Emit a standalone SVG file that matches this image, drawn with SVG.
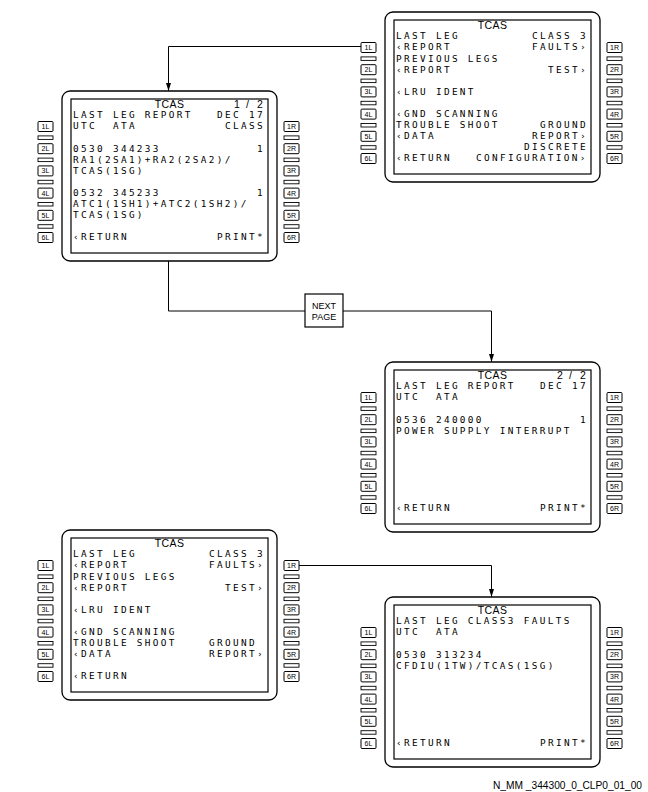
<svg xmlns="http://www.w3.org/2000/svg" xmlns:xlink="http://www.w3.org/1999/xlink" width="648" height="792" viewBox="0 0 648 792">
  <style>
    .bezel { fill: #fff; stroke: #000; stroke-width: 1.3; }
    .crt { fill: #fff; stroke: #000; stroke-width: 1.2; }
    .key { fill: #fff; stroke: #000; stroke-width: 1; }
    .bar { fill: #fff; stroke: #000; stroke-width: 0.9; }
    .klbl { font-family: "Liberation Sans Narrow", "Liberation Sans", sans-serif; font-size: 7px; fill: #000; text-anchor: middle; }
    .ln { font-family: "DejaVu Sans Mono", "Liberation Mono", monospace; font-size: 9.4px; letter-spacing: 2.34px; fill: #000; }
    .ttl { font-family: "Liberation Sans", Arial, sans-serif; font-size: 10.5px; letter-spacing: 0.4px; fill: #000; }
    .wire { fill: none; stroke: #000; stroke-width: 1; }
    .boxlbl { font-family: "Liberation Sans", Arial, sans-serif; font-size: 9px; fill: #000; text-anchor: middle; }
    .ref { font-family: "Liberation Sans", Arial, sans-serif; font-size: 10.2px; fill: #000; }
  </style>
  <defs>
    <marker id="arrow" markerUnits="userSpaceOnUse" markerWidth="9" markerHeight="6" refX="8" refY="2.5" orient="auto">
      <path d="M0,0 L8,2.5 L0,5 Z" fill="#000"/>
    </marker>
    <!-- CDU bezel with display area -->
    <g id="frame">
      <rect class="bezel" x="0" y="0" width="215" height="170" rx="8"/>
      <rect class="crt" x="9" y="8" width="197" height="154"/>
    </g>
    <!-- line select keys, left column -->
    <g id="keys-left">
      <rect class="key" x="-24" y="30.5" width="15" height="10" rx="1"/>
      <rect class="bar" x="-24" y="44.9" width="15" height="3.5"/>
      <rect class="key" x="-24" y="52.7" width="15" height="10" rx="1"/>
      <rect class="bar" x="-24" y="67.1" width="15" height="3.5"/>
      <rect class="key" x="-24" y="74.9" width="15" height="10" rx="1"/>
      <rect class="bar" x="-24" y="89.3" width="15" height="3.5"/>
      <rect class="key" x="-24" y="97.1" width="15" height="10" rx="1"/>
      <rect class="bar" x="-24" y="111.5" width="15" height="3.5"/>
      <rect class="key" x="-24" y="119.3" width="15" height="10" rx="1"/>
      <rect class="bar" x="-24" y="133.7" width="15" height="3.5"/>
      <rect class="key" x="-24" y="141.5" width="15" height="10" rx="1"/>
      <text class="klbl" x="-16.5" y="38">1L</text>
      <text class="klbl" x="-16.5" y="60.2">2L</text>
      <text class="klbl" x="-16.5" y="82.4">3L</text>
      <text class="klbl" x="-16.5" y="104.6">4L</text>
      <text class="klbl" x="-16.5" y="126.8">5L</text>
      <text class="klbl" x="-16.5" y="149">6L</text>
    </g>
    <!-- line select keys, right column -->
    <g id="keys-right">
      <rect class="key" x="222" y="30.5" width="15" height="10" rx="1"/>
      <rect class="bar" x="222" y="44.9" width="15" height="3.5"/>
      <rect class="key" x="222" y="52.7" width="15" height="10" rx="1"/>
      <rect class="bar" x="222" y="67.1" width="15" height="3.5"/>
      <rect class="key" x="222" y="74.9" width="15" height="10" rx="1"/>
      <rect class="bar" x="222" y="89.3" width="15" height="3.5"/>
      <rect class="key" x="222" y="97.1" width="15" height="10" rx="1"/>
      <rect class="bar" x="222" y="111.5" width="15" height="3.5"/>
      <rect class="key" x="222" y="119.3" width="15" height="10" rx="1"/>
      <rect class="bar" x="222" y="133.7" width="15" height="3.5"/>
      <rect class="key" x="222" y="141.5" width="15" height="10" rx="1"/>
      <text class="klbl" x="229.5" y="38">1R</text>
      <text class="klbl" x="229.5" y="60.2">2R</text>
      <text class="klbl" x="229.5" y="82.4">3R</text>
      <text class="klbl" x="229.5" y="104.6">4R</text>
      <text class="klbl" x="229.5" y="126.8">5R</text>
      <text class="klbl" x="229.5" y="149">6R</text>
    </g>
  </defs>

  <!-- connectors -->
  <g id="connectors">
    <path class="wire" d="M361,46.5 H168.5 V91" marker-end="url(#arrow)"/>
    <path class="wire" d="M168.5,261 V311 H305"/>
    <path class="wire" d="M343,311 H491.5 V362" marker-end="url(#arrow)"/>
    <path class="wire" d="M299,565.5 H491.5 V597" marker-end="url(#arrow)"/>
  </g>

  <!-- NEXT PAGE label box -->
  <g id="next-page">
    <rect x="305" y="294" width="38" height="33" fill="#fff" stroke="#000" stroke-width="1.2"/>
    <text class="boxlbl" x="324" y="308.5">NEXT</text>
    <text class="boxlbl" x="324" y="320">PAGE</text>
  </g>

  <!-- TCAS main menu (with discrete configuration) -->
  <g id="tcas-menu-a" transform="translate(385,12)">
    <use xlink:href="#frame"/>
    <use xlink:href="#keys-left"/>
    <use xlink:href="#keys-right"/>
    <text class="ttl" x="107.5" y="16.6" text-anchor="middle">TCAS</text>
    <text class="ln" x="11" y="27.3">LAST LEG</text>
    <text class="ln" x="147" y="27.3">CLASS 3</text>
    <text class="ln" x="11" y="38.4">‹REPORT</text>
    <text class="ln" x="147" y="38.4">FAULTS›</text>
    <text class="ln" x="11" y="49.5">PREVIOUS LEGS</text>
    <text class="ln" x="11" y="60.6">‹REPORT</text>
    <text class="ln" x="163" y="60.6">TEST›</text>
    <text class="ln" x="11" y="82.8">‹LRU IDENT</text>
    <text class="ln" x="11" y="105">‹GND SCANNING</text>
    <text class="ln" x="11" y="116.1">TROUBLE SHOOT</text>
    <text class="ln" x="155" y="116.1">GROUND</text>
    <text class="ln" x="11" y="127.2">‹DATA</text>
    <text class="ln" x="147" y="127.2">REPORT›</text>
    <text class="ln" x="139" y="138.3">DISCRETE</text>
    <text class="ln" x="11" y="149.4">‹RETURN</text>
    <text class="ln" x="91" y="149.4">CONFIGURATION›</text>
  </g>

  <!-- last leg report, page 1 -->
  <g id="last-leg-p1" transform="translate(62,91)">
    <use xlink:href="#frame"/>
    <use xlink:href="#keys-left"/>
    <use xlink:href="#keys-right"/>
    <text class="ttl" x="107.5" y="16.6" text-anchor="middle">TCAS</text>
    <text class="ttl" x="172 184 195" y="16.6">1/2</text>
    <text class="ln" x="11" y="27.3">LAST LEG REPORT</text>
    <text class="ln" x="155" y="27.3">DEC 17</text>
    <text class="ln" x="11" y="38.4">UTC</text>
    <text class="ln" x="51" y="38.4">ATA</text>
    <text class="ln" x="163" y="38.4">CLASS</text>
    <text class="ln" x="11" y="60.6">0530 344233</text>
    <text class="ln" x="195" y="60.6">1</text>
    <text class="ln" x="11" y="71.7">RA1(2SA1)+RA2(2SA2)/</text>
    <text class="ln" x="11" y="82.8">TCAS(1SG)</text>
    <text class="ln" x="11" y="105">0532 345233</text>
    <text class="ln" x="195" y="105">1</text>
    <text class="ln" x="11" y="116.1">ATC1(1SH1)+ATC2(1SH2)/</text>
    <text class="ln" x="11" y="127.2">TCAS(1SG)</text>
    <text class="ln" x="11" y="149.4">‹RETURN</text>
    <text class="ln" x="155" y="149.4">PRINT*</text>
  </g>

  <!-- last leg report, page 2 -->
  <g id="last-leg-p2" transform="translate(385,362)">
    <use xlink:href="#frame"/>
    <use xlink:href="#keys-left"/>
    <use xlink:href="#keys-right"/>
    <text class="ttl" x="107.5" y="16.6" text-anchor="middle">TCAS</text>
    <text class="ttl" x="172 184 195" y="16.6">2/2</text>
    <text class="ln" x="11" y="27.3">LAST LEG REPORT</text>
    <text class="ln" x="155" y="27.3">DEC 17</text>
    <text class="ln" x="11" y="38.4">UTC</text>
    <text class="ln" x="51" y="38.4">ATA</text>
    <text class="ln" x="11" y="60.6">0536 240000</text>
    <text class="ln" x="195" y="60.6">1</text>
    <text class="ln" x="11" y="71.7">POWER SUPPLY INTERRUPT</text>
    <text class="ln" x="11" y="149.4">‹RETURN</text>
    <text class="ln" x="155" y="149.4">PRINT*</text>
  </g>

  <!-- TCAS main menu -->
  <g id="tcas-menu-b" transform="translate(62,530)">
    <use xlink:href="#frame"/>
    <use xlink:href="#keys-left"/>
    <use xlink:href="#keys-right"/>
    <text class="ttl" x="107.5" y="16.6" text-anchor="middle">TCAS</text>
    <text class="ln" x="11" y="27.3">LAST LEG</text>
    <text class="ln" x="147" y="27.3">CLASS 3</text>
    <text class="ln" x="11" y="38.4">‹REPORT</text>
    <text class="ln" x="147" y="38.4">FAULTS›</text>
    <text class="ln" x="11" y="49.5">PREVIOUS LEGS</text>
    <text class="ln" x="11" y="60.6">‹REPORT</text>
    <text class="ln" x="163" y="60.6">TEST›</text>
    <text class="ln" x="11" y="82.8">‹LRU IDENT</text>
    <text class="ln" x="11" y="105">‹GND SCANNING</text>
    <text class="ln" x="11" y="116.1">TROUBLE SHOOT</text>
    <text class="ln" x="147" y="116.1">GROUND</text>
    <text class="ln" x="11" y="127.2">‹DATA</text>
    <text class="ln" x="147" y="127.2">REPORT›</text>
    <text class="ln" x="11" y="149.4">‹RETURN</text>
  </g>

  <!-- last leg class 3 faults -->
  <g id="class3-faults" transform="translate(385,597)">
    <use xlink:href="#frame"/>
    <use xlink:href="#keys-left"/>
    <use xlink:href="#keys-right"/>
    <text class="ttl" x="107.5" y="16.6" text-anchor="middle">TCAS</text>
    <text class="ln" x="11" y="27.3">LAST LEG CLASS3 FAULTS</text>
    <text class="ln" x="11" y="38.4">UTC</text>
    <text class="ln" x="51" y="38.4">ATA</text>
    <text class="ln" x="11" y="60.6">0530 313234</text>
    <text class="ln" x="11" y="71.7">CFDIU(1TW)/TCAS(1SG)</text>
    <text class="ln" x="11" y="149.4">‹RETURN</text>
    <text class="ln" x="155" y="149.4">PRINT*</text>
  </g>

  <text class="ref" x="493" y="789">N_MM _344300_0_CLP0_01_00</text>
</svg>
